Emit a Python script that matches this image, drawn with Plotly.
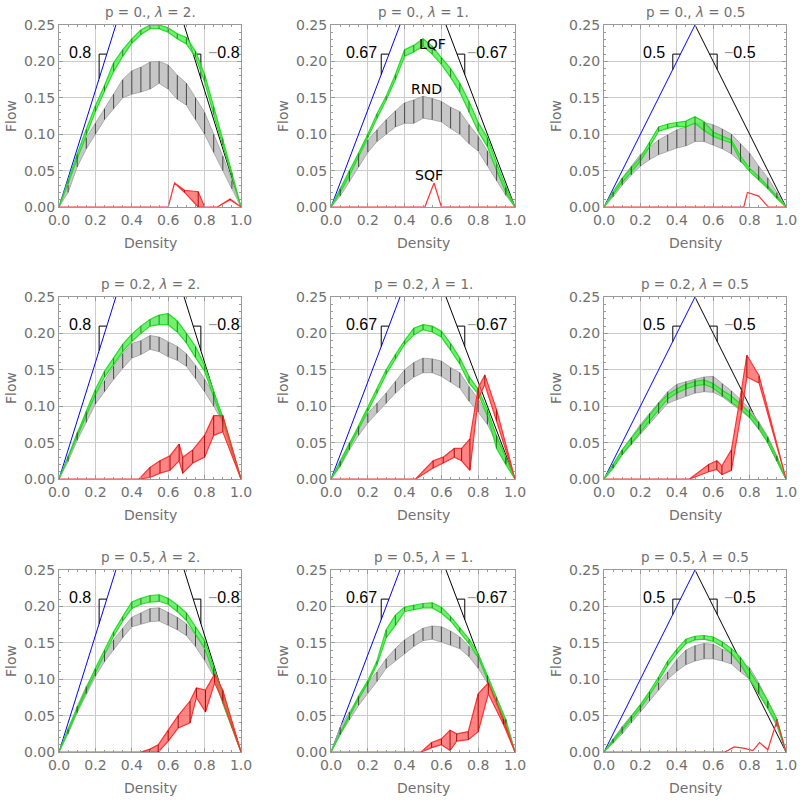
import plotly.graph_objects as go

# ---------------- data ----------------
X = [0.0, 0.05, 0.1, 0.15, 0.2, 0.25, 0.3, 0.35, 0.4, 0.45, 0.5,
     0.55, 0.6, 0.65, 0.7, 0.75, 0.8, 0.85, 0.9, 0.95, 1.0]

P_LABELS = ["0.", "0.2", "0.5"]
LAMBDA_LABELS = ["2.", "1.", "0.5"]
SLOPES = [0.8, 2 / 3, 0.5]
SLOPE_LABELS = ["0.8", "0.67", "0.5"]
X_TICKS = [0.0, 0.2, 0.4, 0.6, 0.8, 1.0]
Y_TICKS = [0.0, 0.05, 0.1, 0.15, 0.2, 0.25]

# LQF (green) lower / upper, panels 1..9 (row-major: p rows, lambda columns)
lqf_lo_1 = [0, 0.032, 0.066, 0.099, 0.131, 0.159, 0.186, 0.207, 0.225, 0.237, 0.245, 0.245, 0.24, 0.231, 0.224, 0.206, 0.172, 0.127, 0.085, 0.041, 0]
lqf_hi_1 = [0, 0.037, 0.073, 0.107, 0.139, 0.167, 0.198, 0.216, 0.231, 0.243, 0.25, 0.25, 0.246, 0.238, 0.233, 0.214, 0.182, 0.138, 0.094, 0.047, 0]
lqf_lo_2 = [0, 0.02, 0.043, 0.068, 0.095, 0.122, 0.147, 0.175, 0.207, 0.213, 0.221, 0.21, 0.196, 0.178, 0.158, 0.13, 0.104, 0.083, 0.05, 0.02, 0]
lqf_hi_2 = [0, 0.024, 0.048, 0.074, 0.1, 0.128, 0.152, 0.182, 0.216, 0.222, 0.231, 0.221, 0.205, 0.19, 0.17, 0.145, 0.116, 0.095, 0.06, 0.028, 0]
lqf_lo_3 = [0, 0.017, 0.034, 0.048, 0.063, 0.083, 0.104, 0.108, 0.111, 0.11, 0.115, 0.105, 0.097, 0.092, 0.088, 0.064, 0.049, 0.038, 0.026, 0.012, 0]
lqf_hi_3 = [0, 0.021, 0.039, 0.053, 0.068, 0.089, 0.11, 0.114, 0.116, 0.118, 0.124, 0.117, 0.103, 0.097, 0.092, 0.07, 0.053, 0.042, 0.029, 0.015, 0]
lqf_lo_4 = [0, 0.028, 0.057, 0.087, 0.116, 0.14, 0.157, 0.175, 0.189, 0.2, 0.21, 0.212, 0.212, 0.202, 0.187, 0.167, 0.148, 0.113, 0.078, 0.039, 0]
lqf_hi_4 = [0, 0.032, 0.062, 0.093, 0.123, 0.148, 0.166, 0.185, 0.199, 0.21, 0.219, 0.225, 0.227, 0.217, 0.2, 0.182, 0.156, 0.12, 0.085, 0.043, 0]
lqf_lo_5 = [0, 0.019, 0.043, 0.068, 0.093, 0.118, 0.144, 0.165, 0.185, 0.198, 0.205, 0.202, 0.195, 0.177, 0.158, 0.132, 0.117, 0.087, 0.042, 0.02, 0]
lqf_hi_5 = [0, 0.023, 0.048, 0.073, 0.098, 0.123, 0.15, 0.171, 0.19, 0.207, 0.212, 0.21, 0.203, 0.186, 0.166, 0.141, 0.123, 0.095, 0.058, 0.03, 0]
lqf_lo_6 = [0, 0.015, 0.034, 0.05, 0.065, 0.08, 0.095, 0.11, 0.118, 0.124, 0.128, 0.13, 0.125, 0.115, 0.106, 0.096, 0.085, 0.07, 0.05, 0.025, 0]
lqf_hi_6 = [0, 0.02, 0.04, 0.056, 0.072, 0.088, 0.103, 0.116, 0.124, 0.13, 0.134, 0.136, 0.131, 0.122, 0.114, 0.103, 0.091, 0.076, 0.056, 0.03, 0]
lqf_lo_7 = [0, 0.028, 0.056, 0.083, 0.109, 0.134, 0.159, 0.18, 0.197, 0.203, 0.206, 0.207, 0.203, 0.193, 0.181, 0.162, 0.143, 0.107, 0.067, 0.034, 0]
lqf_hi_7 = [0, 0.032, 0.06, 0.088, 0.115, 0.14, 0.165, 0.186, 0.206, 0.211, 0.215, 0.216, 0.211, 0.202, 0.191, 0.172, 0.153, 0.116, 0.079, 0.04, 0]
lqf_lo_8 = [0, 0.024, 0.048, 0.073, 0.094, 0.12, 0.157, 0.174, 0.193, 0.195, 0.198, 0.198, 0.191, 0.18, 0.165, 0.149, 0.13, 0.1, 0.069, 0.039, 0]
lqf_hi_8 = [0, 0.027, 0.051, 0.077, 0.098, 0.125, 0.168, 0.188, 0.199, 0.202, 0.204, 0.205, 0.199, 0.186, 0.171, 0.155, 0.135, 0.105, 0.074, 0.044, 0]
lqf_lo_9 = [0, 0.014, 0.029, 0.044, 0.06, 0.078, 0.098, 0.119, 0.135, 0.149, 0.154, 0.155, 0.152, 0.145, 0.135, 0.12, 0.1, 0.08, 0.06, 0.039, 0]
lqf_hi_9 = [0, 0.017, 0.032, 0.048, 0.065, 0.083, 0.103, 0.125, 0.141, 0.155, 0.159, 0.16, 0.158, 0.151, 0.142, 0.13, 0.111, 0.092, 0.07, 0.045, 0]

# RND (gray) lower / upper
rnd_lo_1 = [0, 0.02, 0.055, 0.08, 0.1, 0.12, 0.135, 0.15, 0.155, 0.158, 0.162, 0.17, 0.162, 0.148, 0.14, 0.12, 0.1, 0.075, 0.05, 0.025, 0]
rnd_hi_1 = [0, 0.03, 0.07, 0.095, 0.115, 0.135, 0.155, 0.175, 0.187, 0.192, 0.199, 0.2, 0.195, 0.181, 0.17, 0.15, 0.13, 0.1, 0.07, 0.036, 0]
rnd_lo_2 = [0, 0.015, 0.035, 0.055, 0.075, 0.09, 0.1, 0.11, 0.115, 0.115, 0.122, 0.12, 0.117, 0.108, 0.1, 0.087, 0.077, 0.057, 0.036, 0.016, 0]
rnd_hi_2 = [0, 0.025, 0.05, 0.07, 0.092, 0.106, 0.12, 0.132, 0.143, 0.147, 0.152, 0.149, 0.145, 0.137, 0.131, 0.113, 0.097, 0.077, 0.052, 0.026, 0]
rnd_lo_3 = [0, 0.014, 0.03, 0.044, 0.056, 0.065, 0.072, 0.077, 0.081, 0.084, 0.09, 0.09, 0.085, 0.08, 0.073, 0.062, 0.055, 0.037, 0.025, 0.012, 0]
rnd_hi_3 = [0, 0.02, 0.04, 0.056, 0.072, 0.082, 0.092, 0.099, 0.106, 0.11, 0.115, 0.116, 0.113, 0.107, 0.1, 0.087, 0.074, 0.056, 0.04, 0.02, 0]
rnd_lo_4 = [0, 0.024, 0.053, 0.078, 0.103, 0.12, 0.137, 0.152, 0.166, 0.171, 0.178, 0.175, 0.168, 0.163, 0.155, 0.138, 0.12, 0.1, 0.078, 0.039, 0]
rnd_hi_4 = [0, 0.03, 0.064, 0.09, 0.116, 0.135, 0.155, 0.172, 0.186, 0.19, 0.197, 0.195, 0.188, 0.182, 0.172, 0.156, 0.137, 0.116, 0.086, 0.043, 0]
rnd_lo_5 = [0, 0.017, 0.04, 0.06, 0.077, 0.091, 0.104, 0.118, 0.13, 0.14, 0.146, 0.146, 0.141, 0.133, 0.125, 0.107, 0.092, 0.075, 0.05, 0.021, 0]
rnd_hi_5 = [0, 0.025, 0.05, 0.07, 0.09, 0.104, 0.118, 0.134, 0.15, 0.16, 0.166, 0.165, 0.162, 0.153, 0.146, 0.127, 0.11, 0.087, 0.06, 0.03, 0]
rnd_lo_6 = [0, 0.015, 0.033, 0.047, 0.062, 0.076, 0.09, 0.104, 0.109, 0.114, 0.118, 0.12, 0.119, 0.113, 0.104, 0.094, 0.084, 0.068, 0.05, 0.025, 0]
rnd_hi_6 = [0, 0.02, 0.04, 0.057, 0.075, 0.09, 0.105, 0.12, 0.13, 0.134, 0.137, 0.14, 0.141, 0.131, 0.121, 0.109, 0.096, 0.079, 0.058, 0.032, 0]
rnd_lo_7 = [0, 0.025, 0.054, 0.08, 0.104, 0.124, 0.14, 0.157, 0.172, 0.176, 0.179, 0.18, 0.174, 0.168, 0.16, 0.145, 0.126, 0.104, 0.07, 0.034, 0]
rnd_hi_7 = [0, 0.03, 0.063, 0.09, 0.114, 0.135, 0.154, 0.17, 0.185, 0.191, 0.197, 0.198, 0.192, 0.185, 0.176, 0.161, 0.141, 0.116, 0.08, 0.04, 0]
rnd_lo_8 = [0, 0.024, 0.044, 0.064, 0.081, 0.097, 0.115, 0.126, 0.135, 0.145, 0.153, 0.155, 0.151, 0.147, 0.142, 0.131, 0.115, 0.095, 0.065, 0.039, 0]
rnd_hi_8 = [0, 0.034, 0.055, 0.075, 0.095, 0.11, 0.128, 0.142, 0.154, 0.162, 0.17, 0.173, 0.172, 0.166, 0.158, 0.145, 0.13, 0.105, 0.075, 0.045, 0]
rnd_lo_9 = [0, 0.012, 0.025, 0.04, 0.055, 0.07, 0.085, 0.1, 0.111, 0.12, 0.125, 0.128, 0.128, 0.125, 0.121, 0.11, 0.1, 0.08, 0.06, 0.035, 0]
rnd_hi_9 = [0, 0.018, 0.035, 0.05, 0.065, 0.08, 0.095, 0.11, 0.127, 0.14, 0.146, 0.149, 0.148, 0.141, 0.137, 0.125, 0.116, 0.095, 0.07, 0.045, 0]

# SQF (red): own density points, lower / upper
sqf_x_1 = [0, 0.6, 0.635, 0.69, 0.765, 0.8, 0.87, 0.94, 1.0]
sqf_lo_1 = [0, 0, 0.033, 0.02, 0, 0, 0, 0.01, 0]
sqf_hi_1 = [0, 0, 0.033, 0.023, 0.021, 0, 0, 0.011, 0]
sqf_x_2 = [0, 0.51, 0.56, 0.6, 1.0]
sqf_lo_2 = [0, 0, 0.033, 0, 0]
sqf_hi_2 = [0, 0, 0.033, 0, 0]
sqf_x_3 = [0, 0.768, 0.788, 0.85, 0.903, 1.0]
sqf_lo_3 = [0, 0, 0.02, 0.015, 0, 0]
sqf_hi_3 = [0, 0, 0.02, 0.015, 0, 0]
sqf_x_4 = [0, 0.44, 0.5, 0.555, 0.61, 0.66, 0.68, 0.735, 0.8, 0.85, 0.9, 1.0]
sqf_lo_4 = [0, 0, 0.002, 0.008, 0.012, 0.025, 0.008, 0.022, 0.03, 0.06, 0.065, 0]
sqf_hi_4 = [0, 0, 0.016, 0.025, 0.032, 0.048, 0.03, 0.04, 0.06, 0.087, 0.087, 0]
sqf_x_5 = [0, 0.46, 0.555, 0.61, 0.67, 0.71, 0.755, 0.8, 0.836, 0.9, 1.0]
sqf_lo_5 = [0, 0, 0.015, 0.022, 0.03, 0.025, 0.012, 0.11, 0.13, 0.08, 0]
sqf_hi_5 = [0, 0, 0.025, 0.03, 0.042, 0.042, 0.055, 0.125, 0.143, 0.095, 0]
sqf_x_6 = [0, 0.47, 0.575, 0.62, 0.648, 0.7, 0.757, 0.785, 0.852, 1.0]
sqf_lo_6 = [0, 0, 0.01, 0.013, 0.006, 0.012, 0.095, 0.14, 0.132, 0]
sqf_hi_6 = [0, 0, 0.02, 0.025, 0.018, 0.04, 0.125, 0.17, 0.142, 0]
sqf_x_7 = [0, 0.45, 0.5, 0.545, 0.6, 0.655, 0.72, 0.755, 0.805, 0.855, 0.9, 1.0]
sqf_lo_7 = [0, 0, 0, 0, 0.015, 0.033, 0.04, 0.075, 0.055, 0.095, 0.07, 0]
sqf_hi_7 = [0, 0, 0.004, 0.01, 0.03, 0.05, 0.07, 0.088, 0.085, 0.107, 0.085, 0]
sqf_x_8 = [0, 0.49, 0.547, 0.6, 0.647, 0.683, 0.746, 0.8, 0.855, 0.937, 1.0]
sqf_lo_8 = [0, 0, 0.006, 0.01, 0.002, 0.015, 0.017, 0.028, 0.08, 0.038, 0]
sqf_hi_8 = [0, 0, 0.013, 0.018, 0.03, 0.025, 0.028, 0.08, 0.095, 0.045, 0]
sqf_x_9 = [0, 0.665, 0.715, 0.773, 0.818, 0.855, 0.9, 0.95, 1.0]
sqf_lo_9 = [0, 0, 0.007, 0.005, 0.002, 0.013, 0.003, 0.043, 0]
sqf_hi_9 = [0, 0, 0.007, 0.005, 0.002, 0.013, 0.003, 0.043, 0]

LQF = [(lqf_lo_1, lqf_hi_1), (lqf_lo_2, lqf_hi_2), (lqf_lo_3, lqf_hi_3),
       (lqf_lo_4, lqf_hi_4), (lqf_lo_5, lqf_hi_5), (lqf_lo_6, lqf_hi_6),
       (lqf_lo_7, lqf_hi_7), (lqf_lo_8, lqf_hi_8), (lqf_lo_9, lqf_hi_9)]
RND = [(rnd_lo_1, rnd_hi_1), (rnd_lo_2, rnd_hi_2), (rnd_lo_3, rnd_hi_3),
       (rnd_lo_4, rnd_hi_4), (rnd_lo_5, rnd_hi_5), (rnd_lo_6, rnd_hi_6),
       (rnd_lo_7, rnd_hi_7), (rnd_lo_8, rnd_hi_8), (rnd_lo_9, rnd_hi_9)]
SQF = [(sqf_x_1, sqf_lo_1, sqf_hi_1), (sqf_x_2, sqf_lo_2, sqf_hi_2), (sqf_x_3, sqf_lo_3, sqf_hi_3),
       (sqf_x_4, sqf_lo_4, sqf_hi_4), (sqf_x_5, sqf_lo_5, sqf_hi_5), (sqf_x_6, sqf_lo_6, sqf_hi_6),
       (sqf_x_7, sqf_lo_7, sqf_hi_7), (sqf_x_8, sqf_lo_8, sqf_hi_8), (sqf_x_9, sqf_lo_9, sqf_hi_9)]

# ---------------- layout geometry (pixels in the 800x800 window) ----------------
W = H = 800
COLS = [(59, 241), (331, 515), (604, 786)]
ROWS = [(25, 207), (297, 479), (570, 752)]


def fx(px):
    return px / W


def fy(py):
    return 1 - py / H


GRAY_TXT = "#707070"
FONT = "DejaVu Sans"

fig = go.Figure()
layout = dict(width=W, height=H, margin=dict(l=0, r=0, t=0, b=0, autoexpand=False),
              paper_bgcolor="white", plot_bgcolor="white", showlegend=False)
annotations = []


def polygon(xs, lo, hi):
    return list(xs) + list(xs)[::-1], list(hi) + list(lo)[::-1]


def bars(xs, lo, hi, skip_zero=True):
    bx, by = [], []
    for x, a, b in zip(xs, lo, hi):
        if skip_zero and b - a <= 0:
            continue
        bx += [x, x, None]
        by += [a, b, None]
    return bx, by


for r in range(3):
    for c in range(3):
        k = r * 3 + c + 1
        sfx = "" if k == 1 else str(k)
        xa, ya = "x" + sfx, "y" + sfx
        s = SLOPES[c]
        ax_common = dict(showgrid=True, gridcolor="#cccccc", gridwidth=1, zeroline=False,
                         showline=True, linecolor="#9a9a9a", linewidth=1, mirror="ticks",
                         ticks="inside", ticklen=4, tickcolor="#9a9a9a", automargin=False,
                         tickfont=dict(family=FONT, size=14, color=GRAY_TXT))
        layout["xaxis" + sfx] = dict(ax_common, domain=[fx(COLS[c][0]), fx(COLS[c][1])], anchor=ya,
                                     range=[0, 1], tickvals=X_TICKS, tickformat=".1f",
                                     minor=dict(ticks="inside", ticklen=2, dtick=0.05, tick0=0,
                                                tickcolor="#9a9a9a", showgrid=False))
        layout["yaxis" + sfx] = dict(ax_common, domain=[fy(ROWS[r][1]), fy(ROWS[r][0])], anchor=xa,
                                     range=[0, 0.25], tickvals=Y_TICKS, tickformat=".2f",
                                     minor=dict(ticks="inside", ticklen=2, dtick=0.01, tick0=0,
                                                tickcolor="#9a9a9a", showgrid=False))
        kw = dict(xaxis=xa, yaxis=ya, hoverinfo="skip", showlegend=False)

        # theoretical lines
        fig.add_trace(go.Scatter(x=[0, 1], y=[0, s], mode="lines", line=dict(color="#0000ff", width=1), **kw))
        fig.add_trace(go.Scatter(x=[0, 1], y=[s, 0], mode="lines", line=dict(color="#000000", width=1), **kw))

        # slope triangles
        xl1 = 0.21 / s
        xl0 = xl1 - 0.042
        fig.add_trace(go.Scatter(x=[xl0, xl0, xl1], y=[s * xl0, s * xl1, s * xl1], mode="lines",
                                 line=dict(color="#000000", width=1), **kw))
        xr0 = 1 - 0.21 / s
        xr1 = xr0 + 0.042
        fig.add_trace(go.Scatter(x=[xr0, xr1, xr1], y=[s * (1 - xr0), s * (1 - xr0), s * (1 - xr1)],
                                 mode="lines", line=dict(color="#000000", width=1), **kw))
        annotations.append(dict(x=xl0 - 0.105, y=0.212, xref=xa, yref=ya, text=SLOPE_LABELS[c],
                                showarrow=False, xanchor="center", yanchor="middle",
                                font=dict(family="Liberation Sans", size=16, color="black")))
        annotations.append(dict(x=xr1 + 0.125, y=0.212, xref=xa, yref=ya,
                                text='<span style="color:#9a9a9a">\u2212</span>' + SLOPE_LABELS[c],
                                showarrow=False, xanchor="center", yanchor="middle",
                                font=dict(family="Liberation Sans", size=16, color="black")))

        # RND band
        lo, hi = RND[k - 1]
        px_, py_ = polygon(X, lo, hi)
        fig.add_trace(go.Scatter(x=px_, y=py_, mode="lines", fill="toself",
                                 fillcolor="rgba(185,185,185,0.8)",
                                 line=dict(color="rgba(165,165,165,0.9)", width=1), **kw))
        # LQF band
        glo, ghi = LQF[k - 1]
        px_, py_ = polygon(X, glo, ghi)
        fig.add_trace(go.Scatter(x=px_, y=py_, mode="lines", fill="toself",
                                 fillcolor="rgba(80,235,80,0.8)",
                                 line=dict(color="rgba(40,220,40,1)", width=1.2), **kw))
        # error bars
        bx, by = bars(X, lo, hi)
        fig.add_trace(go.Scatter(x=bx, y=by, mode="lines", line=dict(color="#3a3a3a", width=0.9), **kw))
        bx, by = bars(X, glo, ghi)
        fig.add_trace(go.Scatter(x=bx, y=by, mode="lines", line=dict(color="#1a801a", width=0.9), **kw))

        # SQF band
        sx, slo, shi = SQF[k - 1]
        px_, py_ = polygon(sx, slo, shi)
        fig.add_trace(go.Scatter(x=px_, y=py_, mode="lines", fill="toself",
                                 fillcolor="rgba(255,80,80,0.7)",
                                 line=dict(color="rgba(255,50,50,1)", width=1.2), **kw))
        bx, by = bars(sx, slo, shi)
        fig.add_trace(go.Scatter(x=bx, y=by, mode="lines", line=dict(color="#990000", width=0.9), **kw))

        # titles and axis labels
        cx = fx((COLS[c][0] + COLS[c][1]) / 2)
        annotations.append(dict(x=cx, y=fy(ROWS[r][0]), xref="paper", yref="paper",
                                text=f"p = {P_LABELS[r]}, <i>\u03bb</i> = {LAMBDA_LABELS[c]}",
                                showarrow=False, xanchor="center", yanchor="bottom", yshift=3,
                                font=dict(family=FONT, size=13.5, color=GRAY_TXT)))
        annotations.append(dict(x=cx, y=fy(ROWS[r][1]), xref="paper", yref="paper",
                                text="Density", showarrow=False, xanchor="center", yanchor="middle",
                                yshift=-36, font=dict(family=FONT, size=14, color=GRAY_TXT)))
        annotations.append(dict(x=fx(COLS[c][0]), y=fy((ROWS[r][0] + ROWS[r][1]) / 2),
                                xref="paper", yref="paper", text="Flow", textangle=-90,
                                showarrow=False, xanchor="center", yanchor="middle", xshift=-48,
                                font=dict(family=FONT, size=14, color=GRAY_TXT)))

# series labels in panel 2
for txt, lx, ly in [("LQF", 0.552, 0.224), ("RND", 0.52, 0.162), ("SQF", 0.531, 0.044)]:
    annotations.append(dict(x=lx, y=ly, xref="x2", yref="y2", text=txt, showarrow=False,
                            xanchor="center", yanchor="middle",
                            font=dict(family=FONT, size=14, color="black")))

layout["annotations"] = annotations
fig.update_layout(**layout)
fig.write_html("out.html", config={"displayModeBar": False},
               post_script="document.body.style.margin='0';document.body.style.overflow='hidden';")
